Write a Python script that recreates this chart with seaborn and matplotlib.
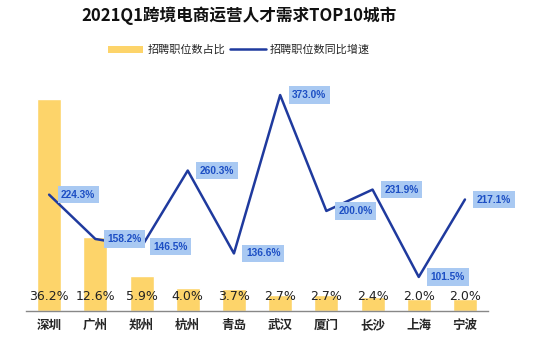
import numpy as np
import pandas as pd
import matplotlib
matplotlib.use("Agg")
import matplotlib.pyplot as plt
import seaborn as sns

cities = ["深圳", "广州", "郑州", "杭州", "青岛", "武汉", "厦门", "长沙", "上海", "宁波"]
share = [36.2, 12.6, 5.9, 4.0, 3.7, 2.7, 2.7, 2.4, 2.0, 2.0]
growth = [224.3, 158.2, 146.5, 260.3, 136.6, 373.0, 200.0, 231.9, 101.5, 217.1]
title = "2021Q1跨境电商运营人才需求TOP10城市"
bar_name = "招聘职位数占比"
line_name = "招聘职位数同比增速"

sns.set_style("white")
plt.rcParams['font.family'] = ['Noto Sans CJK SC', 'DejaVu Sans']

BAR_C = "#FDD46A"
LINE_C = "#1F3A9E"
BOX_C = "#A9C9F2"
TXT_C = "#1D4FC4"

df = pd.DataFrame({"city": cities, "share": share, "growth": growth, "pos": np.arange(len(cities))})

fig = plt.figure(figsize=(5.56, 3.56), dpi=100)
ax = fig.add_axes([0.0468, 0.1264, 0.831, 0.649])
sns.barplot(data=df, x="city", y="share", color=BAR_C, width=0.52, ax=ax, saturation=1)
ax.set_ylim(0, 39.4)
ax.set_xlim(-0.5, len(cities) - 0.5)
ax.set_xlabel("")
ax.set_ylabel("")
ax.set_yticks([])
for s in ["top", "right", "left"]:
    ax.spines[s].set_visible(False)
ax.spines["bottom"].set_color("#888888")
ax.spines["bottom"].set_linewidth(1.0)
ax.tick_params(axis="x", which="major", length=0, pad=6, labelsize=9)
for lab in ax.get_xticklabels():
    lab.set_fontweight("bold")
ax.set_xticks(np.arange(-0.5, len(cities) + 0.5, 1), minor=True)
ax.tick_params(axis="x", which="minor", length=4, width=1, color="#888888", direction="out")

for i, v in enumerate(share):
    ax.text(i, 2.4, f"{v:.1f}%", ha="center", va="center", fontsize=9, color="#222222",
            family=['DejaVu Sans'])

ax2 = ax.twinx()
sns.lineplot(data=df, x="pos", y="growth", color=LINE_C, linewidth=1.8, ax=ax2)
ax2.set_ylim(50.7, 395.5)
ax2.set_yticks([])
ax2.set_ylabel("")
ax2.set_xlabel("")
for s in ["top", "right", "left", "bottom"]:
    ax2.spines[s].set_visible(False)
ax2.set_xlim(-0.5, len(cities) - 0.5)

for i, v in enumerate(growth):
    ax2.annotate(f"{v:.1f}%", xy=(i, v), xytext=(12, 0), textcoords="offset pixels",
                 ha="left", va="center", fontsize=7.3, color=TXT_C, fontweight="bold",
                 family=['Liberation Sans'],
                 bbox=dict(boxstyle="square,pad=0.35", fc=BOX_C, ec="none"))

fig.text(0.43, 0.955, title, ha="center", va="center", fontsize=12, fontweight="bold", color="#111111")

from matplotlib.patches import Patch
from matplotlib.lines import Line2D
handles = [Patch(facecolor=BAR_C, edgecolor="none"), Line2D([0], [0], color=LINE_C, lw=1.8)]
fig.legend(handles, [bar_name, line_name], loc="center", bbox_to_anchor=(0.43, 0.86), ncol=2,
           frameon=False, fontsize=8, handlelength=3.2, handleheight=0.6, columnspacing=0.4,
           handletextpad=0.4)

fig.savefig("out.png", dpi=100)
